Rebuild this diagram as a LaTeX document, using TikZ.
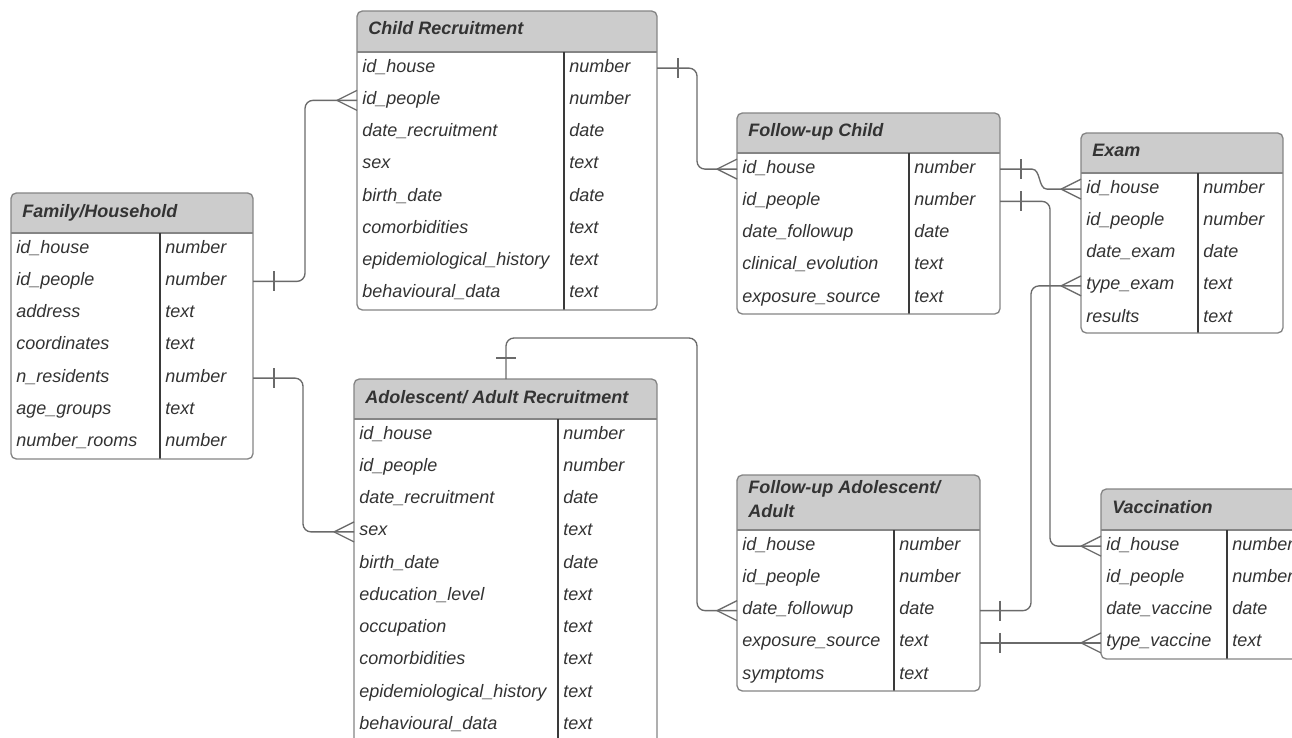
\documentclass[tikz,border=0pt]{standalone}
\usepackage{fontspec}
\setmainfont{Liberation Sans}
\usetikzlibrary{calc}
\definecolor{hdrfill}{HTML}{CCCCCC}
\definecolor{boxc}{HTML}{858585}
\definecolor{divc}{HTML}{3A3A3A}
\definecolor{txtc}{HTML}{333333}
\definecolor{connc}{HTML}{6A6A6A}
\tikzset{
  hdrtext/.style={anchor=base west, inner sep=0pt, font=\fontsize{13.5}{18}\selectfont\bfseries\itshape, text=txtc, align=left},
  fld/.style={anchor=base west, inner sep=0pt, font=\fontsize{13.5}{16}\selectfont\itshape, text=txtc},
  conn/.style={draw=connc, line width=1pt, rounded corners=6pt},
  mark line/.style={draw=connc, line width=1pt},
}
\newcommand{\rowh}{32.25}
\newcommand{\hdroff}{24}
% #1 name, #2 left, #3 top, #4 right, #5 header bottom, #6 divider x, #7 bottom, #8 header, #9 rows
\newcommand{\ertab}[9]{%
  \begin{scope}
    \clip[rounded corners=4pt] (#2,#3) rectangle (#4,#7);
    \fill[white] (#2,#3) rectangle (#4,#7);
    \fill[hdrfill] (#2,#3) rectangle (#4,#5);
  \end{scope}
  \draw[boxc, line width=1pt] (#2,#5) -- (#4,#5);
  \draw[divc, line width=0.8pt] (#6,#5) -- (#6,#7);
  \draw[boxc, line width=1pt, rounded corners=4pt] (#2,#3) rectangle (#4,#7);
  \node[hdrtext] (#1) at (#2+11,#3+\hdroff) {#8};
  \foreach \a/\b [count=\i] in {#9} {
    \node[fld] (#1-n\i) at (#2+5,{#5+(\i-0.5)*\rowh+4}) {\a};
    \node[fld] (#1-t\i) at (#6+5,{#5+(\i-0.5)*\rowh+4}) {\b};
    \coordinate (#1-L\i) at (#2,{#5+(\i-0.5)*\rowh});
    \coordinate (#1-R\i) at (#4,{#5+(\i-0.5)*\rowh});
  }%
}
\newcommand{\crowfoot}[1]{\draw[mark line] ($(#1)+(-20,0)$) -- ($(#1)+(0,-10)$) ($(#1)+(-20,0)$) -- ($(#1)+(0,10)$);}
\newcommand{\onebar}[2]{\draw[mark line] ($(#1)+(#2,-10)$) -- ($(#1)+(#2,10)$);}
\begin{document}
\begin{tikzpicture}[x=0.75pt,y=-0.75pt]
\useasboundingbox (0,0) rectangle (1292,738);
\fill[white] (0,0) rectangle (1292,738);

\ertab{fam}{11}{193}{253}{233}{160}{459}{Family/Household}{id\_house/number, id\_people/number, address/text, coordinates/text, n\_residents/number, age\_groups/text, number\_rooms/number}

\ertab{cr}{357}{11}{657}{52}{564}{310}{Child Recruitment}{id\_house/number, id\_people/number, date\_recruitment/date, sex/text, birth\_date/date, comorbidities/text, epidemiological\_history/text, behavioural\_data/text}

\ertab{fc}{737}{113}{1000}{153}{909}{314}{Follow-up Child}{id\_house/number, id\_people/number, date\_followup/date, clinical\_evolution/text, exposure\_source/text}

\ertab{ex}{1081}{133}{1283}{173}{1198}{333}{Exam}{id\_house/number, id\_people/number, date\_exam/date, type\_exam/text, results/text}

\ertab{ad}{354}{379}{657}{419}{558}{770}{Adolescent/ Adult Recruitment}{id\_house/number, id\_people/number, date\_recruitment/date, sex/text, birth\_date/date, education\_level/text, occupation/text, comorbidities/text, epidemiological\_history/text, behavioural\_data/text}

\renewcommand{\hdroff}{42}
\ertab{fa}{737}{475}{980}{530}{894}{691}{Follow-up Adolescent/\\Adult}{id\_house/number, id\_people/number, date\_followup/date, exposure\_source/text, symptoms/text}
\renewcommand{\hdroff}{24}

\ertab{va}{1101}{489}{1330}{530}{1227}{659}{Vaccination}{id\_house/number, id\_people/number, date\_vaccine/date, type\_vaccine/text}

% connectors
\coordinate (ad-top) at (506,379);
\draw[conn] (fam-R2) -- ++(52,0) |- (cr-L2);
\draw[conn] (fam-R5) -- ++(50,0) |- (ad-L4);
\draw[conn] (cr-R1) -- ++(40,0) |- (fc-L1);
\draw[conn] (ad-top) -- ++(0,-41) -| ($(fa-L3)+(-40,0)$) -- (fa-L3);
\draw[draw=connc, line width=1pt] (fc-R1) -- ++(32,0) .. controls +(9,0) and +(-9,0) .. ($(ex-L1)+(-34,0)$) -- (ex-L1);
\draw[conn] (fc-R2) -- ++(50,0) |- (va-L1);
\draw[conn] (fa-R3) -- ++(51,0) |- (ex-L4);
\draw[conn] (fa-R4) -- (va-L4);

% one-side bars
\onebar{fam-R2}{21}
\onebar{fam-R5}{21}
\onebar{cr-R1}{21}
\onebar{fc-R1}{21}
\onebar{fc-R2}{21}
\onebar{fa-R3}{20}
\onebar{fa-R4}{20}
\draw[mark line] ($(ad-top)+(-10,-21)$) -- ($(ad-top)+(10,-21)$);

% crow's feet
\crowfoot{cr-L2}
\crowfoot{ad-L4}
\crowfoot{fc-L1}
\crowfoot{fa-L3}
\crowfoot{ex-L1}
\crowfoot{ex-L4}
\crowfoot{va-L1}
\crowfoot{va-L4}
\end{tikzpicture}
\end{document}
